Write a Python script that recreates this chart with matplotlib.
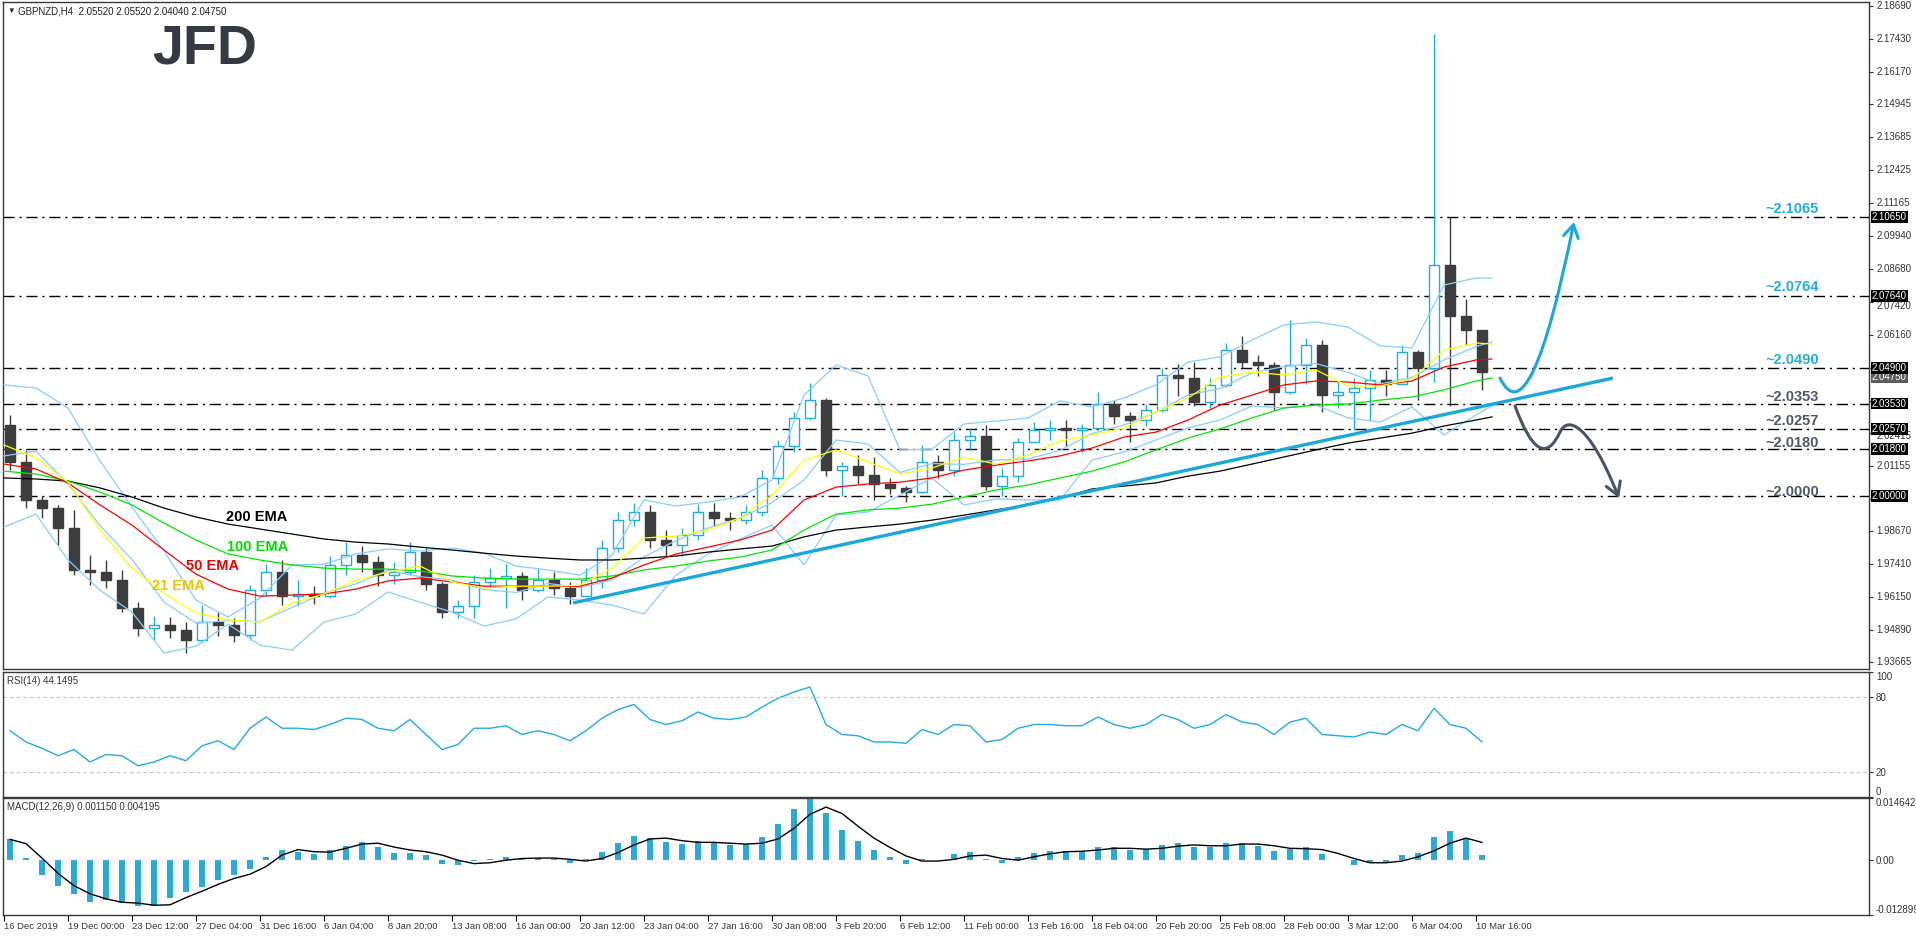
import numpy as np
import matplotlib.pyplot as plt
import matplotlib.transforms as mtransforms
from matplotlib.patches import Rectangle, FancyArrowPatch
from matplotlib.path import Path

plt.rcParams['font.family'] = ['Liberation Sans', 'DejaVu Sans']

# GBPNZD H4, every candle here groups 4 chart bars (prices)
first_open = 2.0271
highs = [2.0309, 2.0176, 2.0000, 1.9966, 1.9947, 1.9775, 1.9756, 1.9718, 1.9595, 1.9542,
         1.9538, 1.9519, 1.9584, 1.9557, 1.9534, 1.9660, 1.9740, 1.9756, 1.9679, 1.9656,
         1.9771, 1.9824, 1.9809, 1.9771, 1.9748, 1.9824, 1.9802, 1.9672, 1.9603, 1.9698,
         1.9725, 1.9740, 1.9710, 1.9725, 1.9710, 1.9672, 1.9725, 1.9832, 1.9939, 1.9973,
         1.9966, 1.9870, 1.9878, 1.9969, 1.9973, 1.9939, 1.9966, 2.0099, 2.0214, 2.0321,
         2.0431, 2.0374, 2.0130, 2.0156, 2.0149, 2.0069, 2.0038, 2.0195, 2.0156, 2.0244,
         2.0260, 2.0271, 2.0107, 2.0221, 2.0282, 2.0290, 2.0290, 2.0275, 2.0397, 2.0366,
         2.0321, 2.0351, 2.0489, 2.0504, 2.0511, 2.0450, 2.0584, 2.0611, 2.0538, 2.0511,
         2.0672, 2.0603, 2.0595, 2.0435, 2.0450, 2.0481, 2.0481, 2.0576, 2.0557, 2.1763,
         2.1065, 2.0752, 2.0552]
lows = [2.0099, 1.9954, 1.9916, 1.9813, 1.9698, 1.9660, 1.9649, 1.9557, 1.9466, 1.9450,
        1.9458, 1.9401, 1.9443, 1.9466, 1.9443, 1.9450, 1.9618, 1.9584, 1.9580, 1.9588,
        1.9611, 1.9698, 1.9710, 1.9656, 1.9664, 1.9698, 1.9641, 1.9534, 1.9534, 1.9534,
        1.9649, 1.9573, 1.9603, 1.9634, 1.9622, 1.9588, 1.9618, 1.9649, 1.9786, 1.9885,
        1.9802, 1.9771, 1.9771, 1.9832, 1.9885, 1.9870, 1.9893, 1.9924, 2.0046, 2.0168,
        2.0290, 2.0076, 2.0000, 2.0046, 1.9985, 2.0008, 1.9977, 2.0011, 2.0069, 2.0076,
        2.0176, 2.0023, 2.0000, 2.0053, 2.0206, 2.0214, 2.0191, 2.0168, 2.0260, 2.0275,
        2.0206, 2.0267, 2.0321, 2.0382, 2.0344, 2.0336, 2.0415, 2.0489, 2.0458, 2.0328,
        2.0390, 2.0427, 2.0321, 2.0336, 2.0252, 2.0290, 2.0382, 2.0427, 2.0366, 2.0435,
        2.0344, 2.0576, 2.0404]
closes = [2.0130, 1.9985, 1.9954, 1.9878, 1.9718, 1.9710, 1.9679, 1.9573, 1.9496, 1.9508,
          1.9489, 1.9450, 1.9519, 1.9508, 1.9469, 1.9641, 1.9710, 1.9618, 1.9626, 1.9618,
          1.9737, 1.9775, 1.9748, 1.9698, 1.9710, 1.9786, 1.9664, 1.9557, 1.9580, 1.9672,
          1.9687, 1.9695, 1.9641, 1.9679, 1.9649, 1.9618, 1.9679, 1.9802, 1.9908, 1.9939,
          1.9832, 1.9813, 1.9851, 1.9939, 1.9916, 1.9908, 1.9939, 2.0069, 2.0191, 2.0298,
          2.0366, 2.0099, 2.0115, 2.0080, 2.0046, 2.0031, 2.0015, 2.0130, 2.0099, 2.0214,
          2.0229, 2.0038, 2.0076, 2.0206, 2.0252, 2.0260, 2.0252, 2.0260, 2.0351, 2.0305,
          2.0290, 2.0328, 2.0462, 2.0450, 2.0359, 2.0424, 2.0557, 2.0511, 2.0500, 2.0397,
          2.0500, 2.0576, 2.0385, 2.0397, 2.0412, 2.0443, 2.0427, 2.0550, 2.0489, 2.0882,
          2.0687, 2.0634, 2.0475]

# indicator lines, read every 8 bars
line_bars = list(range(0, 369, 8)) + [372]
ema21 = [2.0195, 2.0145, 2.0053, 1.9870, 1.9725, 1.9630, 1.9553, 1.9527, 1.9519, 1.9592,
         1.9626, 1.9679, 1.9710, 1.9733, 1.9672, 1.9649, 1.9656, 1.9656, 1.9660, 1.9725,
         1.9840, 1.9847, 1.9870, 1.9916, 2.0004, 2.0137, 2.0176, 2.0130, 2.0084, 2.0107,
         2.0149, 2.0122, 2.0156, 2.0210, 2.0233, 2.0260, 2.0321, 2.0374, 2.0454, 2.0473,
         2.0462, 2.0481, 2.0420, 2.0420, 2.0447, 2.0557, 2.0584, 2.0580]
ema50 = [2.0122, 2.0103, 2.0050, 1.9966, 1.9889, 1.9794, 1.9702, 1.9645, 1.9618, 1.9622,
         1.9626, 1.9645, 1.9676, 1.9687, 1.9672, 1.9656, 1.9656, 1.9656, 1.9656, 1.9687,
         1.9737, 1.9779, 1.9805, 1.9832, 1.9870, 1.9985, 2.0034, 2.0046, 2.0053, 2.0069,
         2.0099, 2.0118, 2.0134, 2.0153, 2.0183, 2.0225, 2.0244, 2.0290, 2.0347, 2.0385,
         2.0424, 2.0439, 2.0435, 2.0424, 2.0439, 2.0492, 2.0519, 2.0523]
ema100 = [2.0095, 2.0084, 2.0057, 2.0015, 1.9966, 1.9897, 1.9832, 1.9779, 1.9756, 1.9737,
          1.9725, 1.9721, 1.9721, 1.9714, 1.9695, 1.9687, 1.9683, 1.9683, 1.9683, 1.9695,
          1.9718, 1.9733, 1.9752, 1.9767, 1.9794, 1.9870, 1.9931, 1.9947, 1.9954, 1.9969,
          1.9996, 2.0023, 2.0042, 2.0069, 2.0095, 2.0130, 2.0176, 2.0221, 2.0256, 2.0298,
          2.0336, 2.0347, 2.0351, 2.0366, 2.0378, 2.0405, 2.0439, 2.0450]
ema200 = [2.0069, 2.0065, 2.0057, 2.0031, 1.9996, 1.9954, 1.9920, 1.9893, 1.9874, 1.9855,
          1.9836, 1.9824, 1.9817, 1.9805, 1.9794, 1.9782, 1.9771, 1.9763, 1.9756, 1.9756,
          1.9763, 1.9771, 1.9786, 1.9798, 1.9809, 1.9844, 1.9870, 1.9882, 1.9893, 1.9908,
          1.9927, 1.9947, 1.9966, 1.9992, 2.0027, 2.0038, 2.0050, 2.0076, 2.0095, 2.0122,
          2.0149, 2.0176, 2.0202, 2.0221, 2.0240, 2.0267, 2.0290, 2.0302]
bb_upper = [2.0424, 2.0412, 2.0336, 2.0134, 1.9958, 1.9790, 1.9603, 1.9538, 1.9611, 1.9737,
            1.9740, 1.9779, 1.9798, 1.9790, 1.9802, 1.9782, 1.9733, 1.9718, 1.9698, 1.9775,
            1.9985, 1.9962, 1.9977, 1.9996, 2.0061, 2.0385, 2.0500, 2.0458, 2.0176, 2.0179,
            2.0275, 2.0286, 2.0298, 2.0363, 2.0340, 2.0374, 2.0424, 2.0511, 2.0531, 2.0595,
            2.0653, 2.0664, 2.0645, 2.0573, 2.0565, 2.0805, 2.0832, 2.0832]
bb_lower = [1.9882, 1.9931, 1.9756, 1.9641, 1.9557, 1.9401, 1.9427, 1.9511, 1.9431, 1.9412,
            1.9519, 1.9550, 1.9634, 1.9595, 1.9557, 1.9504, 1.9531, 1.9615, 1.9603, 1.9584,
            1.9550, 1.9698, 1.9779, 1.9836, 1.9889, 1.9737, 1.9927, 1.9939, 2.0004, 2.0069,
            1.9966, 1.9989, 1.9985, 1.9985, 2.0137, 2.0168, 2.0214, 2.0260, 2.0290, 2.0344,
            2.0336, 2.0347, 2.0298, 2.0282, 2.0340, 2.0233, 2.0309, 2.0344]

rsi = [53, 44, 39, 33, 38, 28, 34, 33, 25, 28,
       33, 29, 41, 45, 38, 55, 64, 55, 55, 54,
       58, 63, 62, 55, 53, 62, 50, 38, 42, 55,
       55, 57, 50, 53, 50, 45, 53, 63, 70, 74,
       62, 58, 61, 68, 63, 62, 64, 72, 79, 84,
       88, 58, 50, 49, 44, 44, 43, 54, 50, 58,
       57, 44, 46, 55, 58, 58, 57, 57, 64, 58,
       55, 58, 66, 62, 55, 58, 66, 60, 58, 50,
       60, 63, 50, 49, 48, 52, 50, 58, 53, 71,
       58, 55, 44.1]
macd_hist = [0.0050, 0.0005, -0.0035, -0.0060, -0.0080, -0.0099, -0.0093, -0.0100, -0.0108, -0.0107,
             -0.0090, -0.0075, -0.0062, -0.0047, -0.0035, -0.0020, 0.0008, 0.0025, 0.0020, 0.0015,
             0.0025, 0.0034, 0.0042, 0.0031, 0.0016, 0.0018, 0.0012, -0.0008, -0.0012, -0.0002,
             0.0004, 0.0008, 0.0004, 0.0006, 0.0003, -0.0006, 0.0002, 0.0020, 0.0040, 0.0058,
             0.0052, 0.0042, 0.0038, 0.0045, 0.0040, 0.0036, 0.0038, 0.0055, 0.0085, 0.0120,
             0.0145, 0.0110, 0.0070, 0.0045, 0.0025, 0.0008, -0.0008, 0.0002, 0.0000, 0.0014,
             0.0020, 0.0002, -0.0006, 0.0008, 0.0018, 0.0022, 0.0022, 0.0022, 0.0032, 0.0030,
             0.0024, 0.0026, 0.0036, 0.0040, 0.0032, 0.0030, 0.0040, 0.0040, 0.0034, 0.0022,
             0.0026, 0.0030, 0.0014, 0.0000, -0.0012, -0.0006, -0.0004, 0.0012, 0.0018, 0.0055,
             0.0068, 0.0050, 0.0012]
macd_signal = [0.0049, 0.0039, 0.0005, -0.0031, -0.0060, -0.0079, -0.0091, -0.0099, -0.0101, -0.0106,
               -0.0105, -0.0088, -0.0073, -0.0057, -0.0043, -0.0033, -0.0015, 0.0012, 0.0025, 0.0020,
               0.0019, 0.0028, 0.0038, 0.0040, 0.0031, 0.0024, 0.0020, 0.0012, 0.0000, -0.0008,
               -0.0006, 0.0000, 0.0004, 0.0005, 0.0005, 0.0002, -0.0002, 0.0004, 0.0018, 0.0036,
               0.0050, 0.0052, 0.0046, 0.0042, 0.0042, 0.0040, 0.0038, 0.0040, 0.0050, 0.0075,
               0.0108, 0.0125, 0.0110, 0.0080, 0.0052, 0.0030, 0.0010, -0.0002, -0.0002, 0.0002,
               0.0010, 0.0012, 0.0004, 0.0000, 0.0008, 0.0015, 0.0020, 0.0021, 0.0024, 0.0028,
               0.0028, 0.0026, 0.0028, 0.0033, 0.0036, 0.0034, 0.0034, 0.0038, 0.0038, 0.0034,
               0.0028, 0.0027, 0.0025, 0.0016, 0.0004, -0.0006, -0.0006, -0.0002, 0.0008, 0.0022,
               0.0040, 0.0052, 0.0042]

levels = [2.1065, 2.0764, 2.0490, 2.0353, 2.0257, 2.0180, 2.0000]
level_text = ['~2.1065', '~2.0764', '~2.0490', '~2.0353', '~2.0257', '~2.0180', '~2.0000']
level_gap = [0.0015, 0.0019, 0.0015, 0.0008, 0.0015, 0.0008, 0.0000]

# right-axis scale; labels that sit behind a level box are not printed
price_ticks = [2.18690, 2.17430, 2.16170, 2.14945, 2.13685, 2.12425, 2.11165, 2.09940,
               2.08680, 2.07420, 2.06160, 2.04900, 2.03640, 2.02415, 2.01155, 1.99895,
               1.98670, 1.97410, 1.96150, 1.94890, 1.93665]
hidden_ticks = [2.04900, 2.03640, 1.99895]
current_price = 2.04750
date_labels = ['16 Dec 2019', '19 Dec 00:00', '23 Dec 12:00', '27 Dec 04:00', '31 Dec 16:00',
               '6 Jan 04:00', '8 Jan 20:00', '13 Jan 08:00', '16 Jan 00:00', '20 Jan 12:00',
               '23 Jan 04:00', '27 Jan 16:00', '30 Jan 08:00', '3 Feb 20:00', '6 Feb 12:00',
               '11 Feb 00:00', '13 Feb 16:00', '18 Feb 04:00', '20 Feb 20:00', '25 Feb 08:00',
               '28 Feb 00:00', '3 Mar 12:00', '6 Mar 04:00', '10 Mar 16:00']

trend_bars = [142.25, 402.25]
trend_prices = [1.9592, 2.0450]
up_path = [(374.0, 2.0450), (381.5, 2.0214), (392.5, 2.1046)]
down_path = [(377.75, 2.0344), (384.0, 2.0080), (389.0, 2.0244),
             (391.0, 2.0309), (396.5, 2.0271), (403.75, 1.9992)]

CYAN = '#1eaee0'
DARK = '#3d3d3d'
GREY_TXT = '#4f5966'
BAND = '#87cefa'
EDGE = '#3a3a3a'
AXTXT = '#333333'

W, H = 1916, 936
fig = plt.figure(figsize=(W / 100, H / 100), dpi=100)
fig.patch.set_facecolor('white')


def px_axes(x0, y0, x1, y1):
    return fig.add_axes([x0 / W, 1 - y1 / H, (x1 - x0) / W, (y1 - y0) / H])


ax = px_axes(3, 2, 1869, 669)
ax_rsi = px_axes(3, 672, 1869, 797)
ax_macd = px_axes(3, 798, 1869, 915)

for a in (ax, ax_rsi, ax_macd):
    a.set_xlim(-0.25, 466.25)
    for s in a.spines.values():
        s.set_color(EDGE)
        s.set_linewidth(1.0)
    a.yaxis.tick_right()
    a.tick_params(axis='y', direction='out', length=3, width=0.8, pad=2,
                  labelsize=7, colors=AXTXT)
    a.set_xticks([])

# ---- main price panel ----
ax.set_ylim(1.9340, 2.1885)
ax.set_yticks(price_ticks)
ax.set_yticklabels([])
trans = mtransforms.blended_transform_factory(ax.transAxes, ax.transData)
for v in price_ticks:
    if v in hidden_ticks:
        continue
    y = v
    # the two labels that peek out under a level box
    if v == 2.07420:
        y = v - 0.0016
    if v == 2.02415:
        y = v - 0.0013
    ax.text(1.0038, y, '%.5f' % v, transform=trans, ha='left', va='center',
            fontsize=7, color=AXTXT, clip_on=False, zorder=8)

n = len(closes)
opens = [first_open] + closes[:-1]
xc = np.arange(n) * 4 + 1.5
for x, o, h, l, c in zip(xc, opens, highs, lows, closes):
    bull = c >= o
    col = CYAN if bull else DARK
    ax.vlines(x, l, h, color=col, lw=1.0, zorder=3)
    ax.add_patch(Rectangle((x - 1.2, min(o, c)), 2.4, max(abs(c - o), 0.0003),
                           facecolor='white' if bull else DARK, edgecolor=col,
                           lw=1.0, zorder=4))

bb_mid = (np.array(bb_upper) + np.array(bb_lower)) / 2
for band in (bb_upper, bb_mid, bb_lower):
    ax.plot(line_bars, band, color=BAND, lw=0.9, zorder=5)
ax.plot(line_bars, ema200, color='black', lw=0.9, zorder=5)
ax.plot(line_bars, ema100, color='#00e600', lw=0.9, zorder=5)
ax.plot(line_bars, ema50, color='#ff0000', lw=0.9, zorder=5)
ax.plot(line_bars, ema21, color='#ffff00', lw=0.9, zorder=5)

ax.text(63.25, 1.9920, '200 EMA', color='black', fontsize=10.5, fontweight='bold',
        ha='center', va='center', zorder=6)
ax.text(63.5, 1.9805, '100 EMA', color='#00dd00', fontsize=10.5, fontweight='bold',
        ha='center', va='center', zorder=6)
ax.text(52.25, 1.9733, '50 EMA', color='#ee0000', fontsize=10.5, fontweight='bold',
        ha='center', va='center', zorder=6)
ax.text(43.5, 1.9656, '21 EMA', color='#f2c200', fontsize=10.5, fontweight='bold',
        ha='center', va='center', zorder=6)

for i, (lv, txt, gap) in enumerate(zip(levels, level_text, level_gap)):
    ax.axhline(lv, color='black', lw=1.0, dashes=(8, 3.5, 1.5, 3.5), zorder=2)
    ax.text(447, lv + gap, txt, color=CYAN if i < 3 else GREY_TXT, fontsize=10.5,
            fontweight='bold', ha='center', va='baseline', zorder=6)

ax.plot(trend_bars, trend_prices, color='#1aa8dc', lw=2.4, solid_capstyle='butt', zorder=6)

up = Path(up_path, [Path.MOVETO, Path.CURVE3, Path.CURVE3])
ax.add_patch(FancyArrowPatch(path=up, arrowstyle='->,head_length=0.5,head_width=0.3',
                             mutation_scale=18, color='#1aa8dc', lw=2.2, zorder=7,
                             shrinkA=0, shrinkB=0))
down = Path(down_path, [Path.MOVETO, Path.CURVE3, Path.CURVE3,
                        Path.CURVE4, Path.CURVE4, Path.CURVE4])
ax.add_patch(FancyArrowPatch(path=down, arrowstyle='->,head_length=0.5,head_width=0.3',
                             mutation_scale=18, color='#4a5563', lw=2.2, zorder=7,
                             shrinkA=0, shrinkB=0))

# price boxes on the right axis; current price box sits just under the 2.04900 box
ax.text(1.0015, current_price - 0.0020, '%.5f' % current_price, transform=trans,
        ha='left', va='center', fontsize=7, color='white', clip_on=False, zorder=9,
        bbox=dict(boxstyle='square,pad=0.1', fc='#5c5c5c', ec='none'))
for lv in levels:
    ax.text(1.0015, lv, '%.5f' % lv, transform=trans, ha='left', va='center', fontsize=7,
            color='white', clip_on=False, zorder=10,
            bbox=dict(boxstyle='square,pad=0.1', fc='black', ec='none'))

# header and logo
fig.text(7 / W, 1 - 11 / H, '▼', fontsize=5.5, color='#222222', va='center')
fig.text(18 / W, 1 - 11 / H, 'GBPNZD,H4  2.05520 2.05520 2.04040 2.04750',
         fontsize=7, color='#222222', va='center')
fig.text(205 / W, 1 - 50 / H, 'JFD', fontsize=40, fontweight='bold', color='#353a42',
         ha='center', va='center')

# ---- RSI ----
ax_rsi.set_ylim(0, 100)
ax_rsi.plot(xc, rsi, color=CYAN, lw=1.0)
for lv in (80, 20):
    ax_rsi.axhline(lv, color='#c4c4c4', lw=0.8, dashes=(3, 3))
ax_rsi.set_yticks([100, 80, 20, 0])
ax_rsi.set_yticklabels(['100', '80', '20', '0'])
rl = ax_rsi.get_yticklabels()
rl[0].set_va('top')
rl[3].set_va('bottom')
ax_rsi.text(0.002, 0.93, 'RSI(14) 44.1495', transform=ax_rsi.transAxes, fontsize=7,
            color=AXTXT, va='center')

# ---- MACD ----
ax_macd.set_ylim(-0.012899, 0.014642)
ax_macd.bar(xc, macd_hist, width=1.4, color='#2aaad8', zorder=2)
ax_macd.plot(xc, macd_signal, color='black', lw=1.0, zorder=3)
ax_macd.set_yticks([0.014642, 0.0, -0.012899])
ax_macd.set_yticklabels(['0.014642', '0.00', '-0.012899'])
ml = ax_macd.get_yticklabels()
ml[0].set_va('top')
ml[2].set_va('bottom')
ax_macd.text(0.002, 0.92, 'MACD(12,26,9) 0.001150 0.004195', transform=ax_macd.transAxes,
             fontsize=7, color=AXTXT, va='center')

ax_macd.set_xticks(np.arange(len(date_labels)) * 16)
ax_macd.set_xticklabels(date_labels, ha='left', fontsize=6.8, color=AXTXT)
ax_macd.tick_params(axis='x', direction='out', length=4, width=0.8, pad=1)

fig.savefig('out.png', dpi=100, facecolor='white')
